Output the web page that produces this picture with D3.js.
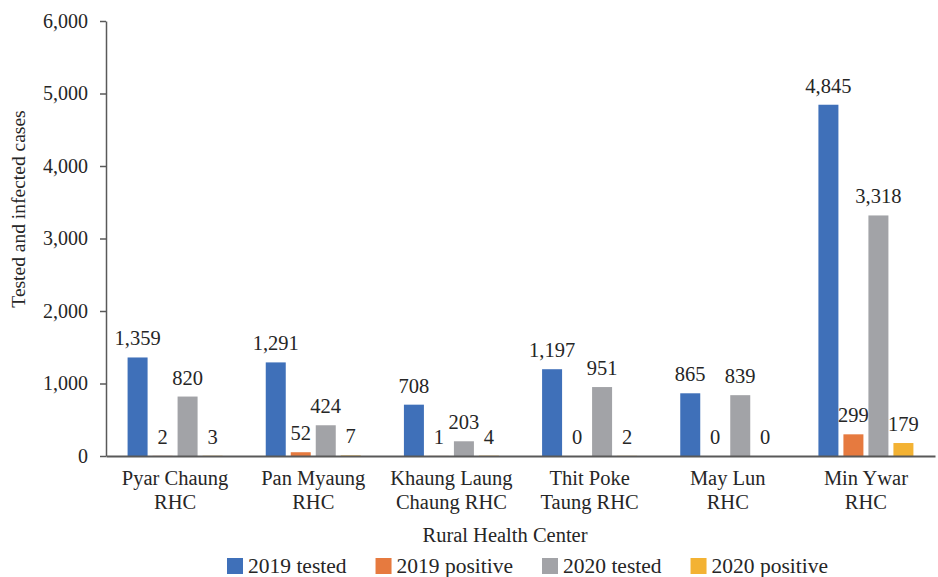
<!DOCTYPE html>
<html>
<head>
<meta charset="utf-8">
<script src="https://cdn.jsdelivr.net/npm/d3@7"></script>
<style>
  body { margin: 0; background: #fff; }
  svg { display: block; font-family: "Liberation Serif", "Times New Roman", serif; }
  svg text { font-family: "Liberation Serif", "Times New Roman", serif; }
  .axis text { font-size: 20px; fill: #262626; }
  .axis path, .axis line { stroke: #595959; }
</style>
</head>
<body>
<div id="chart"></div>
<script>
const categories = [
  ['Pyar Chaung', 'RHC'],
  ['Pan Myaung', 'RHC'],
  ['Khaung Laung', 'Chaung RHC'],
  ['Thit Poke', 'Taung RHC'],
  ['May Lun', 'RHC'],
  ['Min Ywar', 'RHC']
];
const seriesNames = ['2019 tested', '2019 positive', '2020 tested', '2020 positive'];
const tested2019 = [1359, 1291, 708, 1197, 865, 4845];
const positive2019 = [2, 52, 1, 0, 0, 299];
const tested2020 = [820, 424, 203, 951, 839, 3318];
const positive2020 = [3, 7, 4, 2, 0, 179];
const yTicks = [0, 1000, 2000, 3000, 4000, 5000, 6000];
const colors = ['#3f70b9', '#e67a3f', '#a2a3a7', '#f3b233'];

const seriesValues = [tested2019, positive2019, tested2020, positive2020];
const rows = categories.map((cat, i) => ({
  key: cat.join(' '),
  lines: cat,
  values: seriesNames.map((name, s) => ({ name, value: seriesValues[s][i], color: colors[s] }))
}));

const width = 938;
const height = 577;
const margin = { top: 21, right: 3, bottom: 121, left: 106 };
const innerWidth = width - margin.left - margin.right;
const innerHeight = height - margin.top - margin.bottom;

const svg = d3.select('#chart').append('svg')
  .attr('width', width)
  .attr('height', height);

const plot = svg.append('g').attr('transform', `translate(${margin.left},${margin.top})`);

const x0 = d3.scaleBand()
  .domain(rows.map((d) => d.key))
  .range([0, innerWidth])
  .padding(0);

const groupWidth = 95;
const x1 = d3.scaleBand()
  .domain(seriesNames)
  .range([(x0.bandwidth() - groupWidth) / 2, (x0.bandwidth() + groupWidth) / 2])
  .paddingInner(0.2)
  .paddingOuter(0);

const y = d3.scaleLinear()
  .domain([0, 6000])
  .range([innerHeight, 0]);

// y axis
const axisY = plot.append('g').attr('class', 'axis')
  .call(d3.axisLeft(y).tickValues(yTicks).tickFormat(d3.format(',')).tickSize(6).tickSizeOuter(0).tickPadding(12));
axisY.attr('font-family', null);
axisY.select('.domain').attr('stroke-width', 1.5);
axisY.selectAll('.tick line').attr('stroke-width', 1.5);

// bars
const groups = plot.selectAll('.group').data(rows).join('g')
  .attr('class', 'group')
  .attr('transform', (d) => `translate(${x0(d.key)},0)`);

groups.selectAll('rect').data((d) => d.values).join('rect')
  .attr('x', (d) => x1(d.name))
  .attr('width', x1.bandwidth())
  .attr('y', (d) => y(d.value))
  .attr('height', (d) => innerHeight - y(d.value))
  .attr('fill', (d) => d.color);

groups.selectAll('text.value').data((d) => d.values).join('text')
  .attr('class', 'value')
  .attr('x', (d) => x1(d.name) + x1.bandwidth() / 2)
  .attr('y', (d) => y(d.value) - 12)
  .attr('text-anchor', 'middle')
  .attr('font-size', 20.5)
  .attr('fill', '#262626')
  .text((d) => d3.format(',')(d.value));

// x axis
const axisX = plot.append('g').attr('class', 'axis')
  .attr('transform', `translate(0,${innerHeight})`)
  .call(d3.axisBottom(x0).tickSize(0).tickSizeOuter(0).tickFormat(''));
axisX.attr('font-family', null);
axisX.select('.domain').attr('stroke', '#7f7f7f').attr('stroke-width', 2);

axisX.selectAll('.tick').each(function (key) {
  const row = rows.find((r) => r.key === key);
  const t = d3.select(this).append('text')
    .attr('text-anchor', 'middle')
    .attr('fill', '#262626')
    .style('font-size', '20.5px');
  row.lines.forEach((line, i) => {
    t.append('tspan').attr('x', 0).attr('y', 29 + i * 24).text(line);
  });
});

// axis titles
svg.append('text')
  .attr('transform', 'translate(25,209) rotate(-90)')
  .attr('text-anchor', 'middle')
  .attr('font-size', 19.5)
  .attr('fill', '#262626')
  .text('Tested and infected cases');

svg.append('text')
  .attr('x', 505)
  .attr('y', 542)
  .attr('text-anchor', 'middle')
  .attr('font-size', 20.5)
  .attr('fill', '#262626')
  .text('Rural Health Center');

// legend
const legend = svg.append('g').attr('transform', 'translate(0,566)');
const items = legend.selectAll('g').data(seriesNames).join('g');
items.append('rect')
  .attr('width', 16)
  .attr('height', 16)
  .attr('y', -8)
  .attr('fill', (d, i) => colors[i]);
items.append('text')
  .attr('x', 21)
  .attr('y', 7)
  .attr('font-size', 21.5)
  .attr('fill', '#262626')
  .text((d) => d);

let offset = 0;
const widths = [];
items.each(function () {
  widths.push(21 + d3.select(this).select('text').node().getComputedTextLength());
});
const gap = 29;
items.attr('transform', (d, i) => {
  const pos = 227 + offset;
  offset += widths[i] + gap;
  return `translate(${pos},0)`;
});
</script>
</body>
</html>
